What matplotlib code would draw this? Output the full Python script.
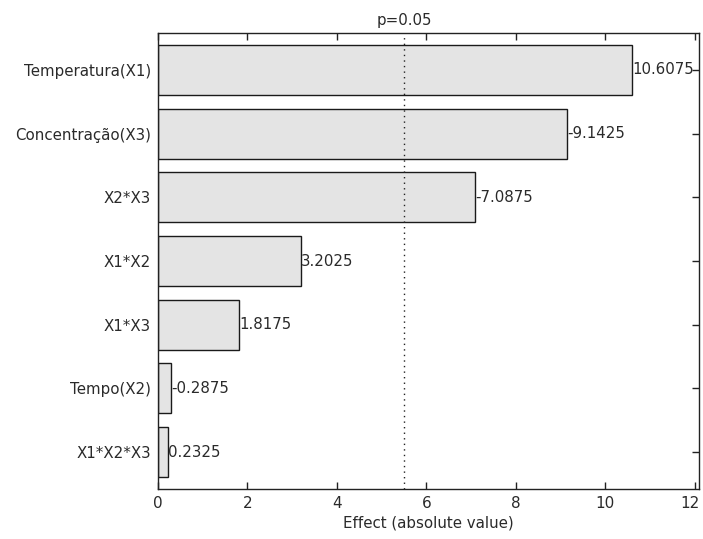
import matplotlib
matplotlib.use("Agg")
import matplotlib.pyplot as plt
import matplotlib.transforms as mtransforms

factors = ["Temperatura(X1)", "Concentração(X3)", "X2*X3", "X1*X2", "X1*X3", "Tempo(X2)", "X1*X2*X3"]
effects = [10.6075, -9.1425, -7.0875, 3.2025, 1.8175, -0.2875, 0.2325]
value_labels = ["10.6075", "-9.1425", "-7.0875", "3.2025", "1.8175", "-0.2875", "0.2325"]
p_line = 5.5
xticks = [0, 2, 4, 6, 8, 10, 12]

plt.rcParams['font.family'] = ['DejaVu Sans']
txt = "#2a2a2a"
fig = plt.figure(figsize=(7.03, 5.39), dpi=100)
ax = fig.add_axes([158 / 703, 1 - 489 / 539, 541 / 703, 456 / 539])

pos = list(range(1, len(factors) + 1))
absv = [abs(v) for v in effects]
ax.barh(pos, absv, height=0.785, color="#e4e4e4", edgecolor="#1a1a1a", linewidth=1.0, zorder=2)
for p, v, lab in zip(pos, absv, value_labels):
    ax.text(v, p, lab, ha="left", va="center", fontsize=10.8, color=txt, zorder=4)

ax.axvline(p_line, color="#222222", linestyle=(0, (1, 3)), linewidth=1.0, zorder=3)
ax.text(p_line, 1.012, "p=0.05", transform=ax.get_xaxis_transform(), ha="center", va="bottom", fontsize=10.8, color=txt)

ax.set_xlim(0, 12.1)
ax.set_ylim(7.58, 0.42)
ax.set_xticks(xticks)
ax.set_xticklabels([str(t) for t in xticks], fontsize=11, color=txt)
ax.set_yticks(pos)
ax.set_yticklabels(factors, fontsize=10.8, color=txt)
ax.tick_params(axis="both", direction="in", top=True, right=True, length=5, width=1, color="#222222")
ax.tick_params(axis="y", pad=5)
ax.tick_params(axis="x", pad=5)
ax.set_xlabel("Effect (absolute value)", fontsize=10.8, color=txt, labelpad=3)
for s in ax.spines.values():
    s.set_color("#222222")
    s.set_linewidth(1.0)

last = ax.get_xticklabels()[-1]
last.set_transform(last.get_transform() + mtransforms.ScaledTranslation(-0.05, 0, fig.dpi_scale_trans))

fig.savefig("out.png", dpi=100)
